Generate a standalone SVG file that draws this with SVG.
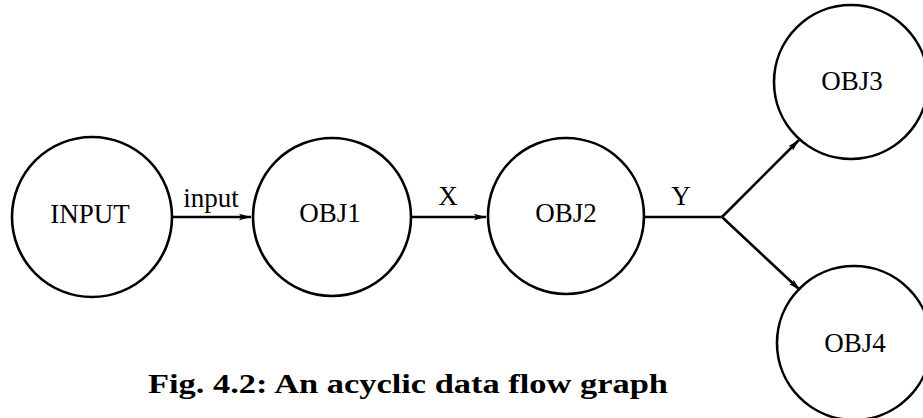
<svg xmlns="http://www.w3.org/2000/svg" width="923" height="418" viewBox="0 0 923 418">
<defs>
<style>
.node{fill:none;stroke:#000;stroke-width:2.6}
.lbl{font-family:"Liberation Serif","Times New Roman",serif;font-size:27px;fill:#000;text-anchor:middle}
.edge{stroke:#000;stroke-width:2.6;fill:none}
.elbl{font-family:"Liberation Serif","Times New Roman",serif;font-size:27px;fill:#000;text-anchor:middle}
.cap{font-family:"Liberation Serif","Times New Roman",serif;font-size:27px;font-weight:bold;fill:#000}
</style>
<marker id="arr" viewBox="0 0 12 8" refX="12" refY="4" markerWidth="12" markerHeight="8" markerUnits="userSpaceOnUse" orient="auto">
<path d="M0,0.8 L12,4 L0,7.2 L2.5,4 Z" fill="#000"/>
</marker>
</defs>
<rect width="923" height="418" fill="#fff"/>
<g id="connectors">
<line class="edge" x1="172" y1="217" x2="251" y2="217" marker-end="url(#arr)"/>
<line class="edge" x1="412" y1="217" x2="486" y2="217" marker-end="url(#arr)"/>
<polyline class="edge" points="645,217 722,217"/>
<line class="edge" x1="722" y1="217" x2="799" y2="140" marker-end="url(#arr)"/>
<line class="edge" x1="722" y1="217" x2="800" y2="290" marker-end="url(#arr)"/>
<text class="elbl" x="211" y="207">input</text>
<text class="elbl" x="448" y="205">X</text>
<text class="elbl" x="681" y="205">Y</text>
</g>
<g id="INPUT">
<circle class="node" cx="92" cy="217" r="80"/>
<text class="lbl" x="90" y="223">INPUT</text>
</g>
<g id="OBJ1">
<circle class="node" cx="332" cy="217" r="79"/>
<text class="lbl" x="330" y="222">OBJ1</text>
</g>
<g id="OBJ2">
<circle class="node" cx="566" cy="216" r="78"/>
<text class="lbl" x="566" y="222">OBJ2</text>
</g>
<g id="OBJ3">
<circle class="node" cx="851" cy="82" r="77"/>
<text class="lbl" x="852" y="90">OBJ3</text>
</g>
<g id="OBJ4">
<circle class="node" cx="854" cy="343" r="77"/>
<text class="lbl" x="855" y="352">OBJ4</text>
</g>
<text class="cap" x="148" y="393" textLength="520" lengthAdjust="spacingAndGlyphs">Fig. 4.2: An acyclic data flow graph</text>
</svg>
